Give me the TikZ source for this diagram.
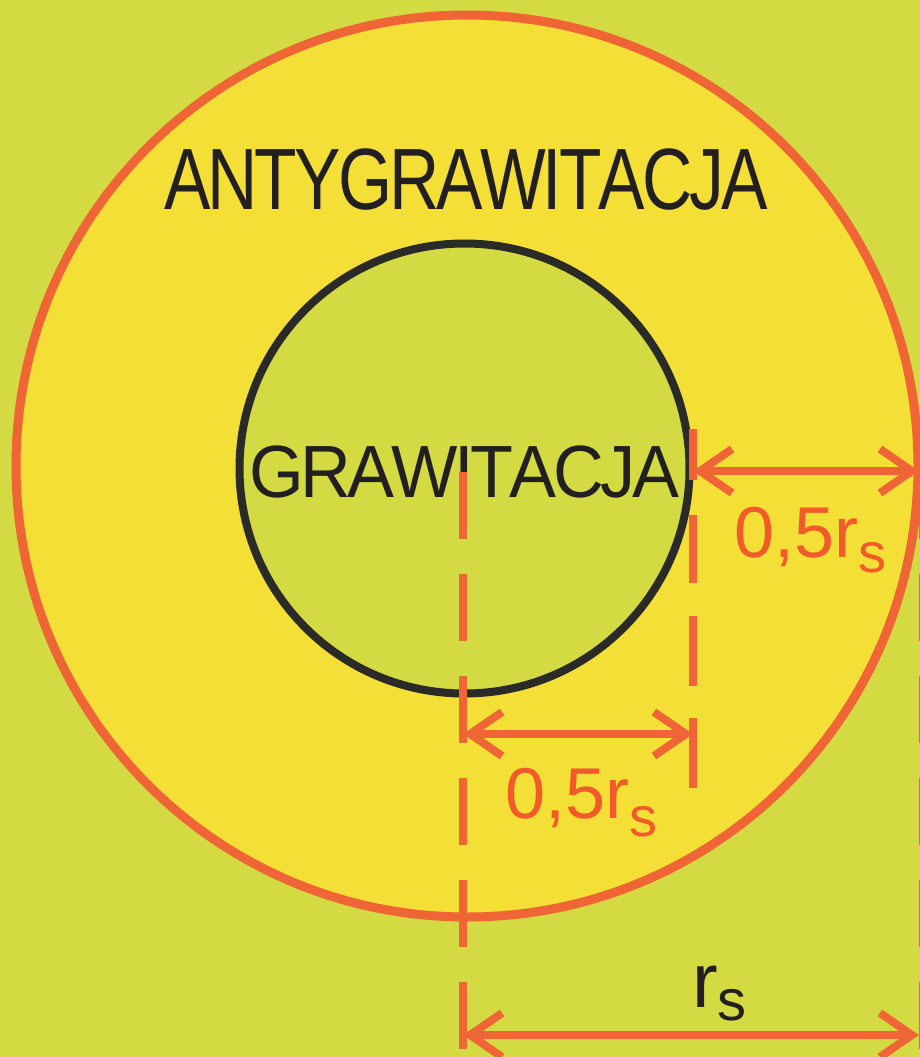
\documentclass[tikz,border=0pt]{standalone}
\usepackage{graphicx}
\usepackage{fontspec}
\setmainfont{Liberation Sans}
\usetikzlibrary{arrows.meta}
\definecolor{bg}{HTML}{D4DA42}
\definecolor{ring}{HTML}{F3DF36}
\definecolor{org}{HTML}{F06535}
\definecolor{txtorg}{HTML}{F15A29}
\definecolor{dark}{HTML}{2A2A26}
\definecolor{ink}{HTML}{231F20}
\newcommand{\kk}{\kern-3.65pt }
\newcommand{\kg}{\kern-3.6pt }
\begin{document}
\begin{tikzpicture}[x=1pt,y=-1pt,
  dim/.style={org, line width=8pt},
  dimarrow/.style={dim, {Straight Barb[length=32pt,width=44pt,sharp]}-{Straight Barb[length=32pt,width=44pt,sharp]}},
  dashln/.style={dim, dash pattern=on 67pt off 35pt},
  lbl/.style={inner sep=0pt, outer sep=0pt, anchor=base west}]
\useasboundingbox (0,0) rectangle (920,1057);
\clip (0,0) rectangle (920,1057);
\fill[bg] (0,0) rectangle (920,1057);
% circles
\node[circle, draw=org, fill=ring, line width=9pt, minimum size=902pt, inner sep=0pt] (outer) at (467,466) {};
\node[circle, draw=dark, fill=bg, line width=8pt, minimum size=450pt, inner sep=0pt] (inner) at (464.5,468.5) {};
% texts
\node[lbl, text=ink] (anti) at (164,209) {\fontsize{87pt}{87pt}\selectfont\scalebox{0.8}[1]{A\kk N\kk T\kk Y\kk G\kk R\kk A\kk W\kk I\kk T\kk A\kk C\kk J\kk A}};
\node[lbl, text=ink] (grav) at (249,497) {\fontsize{74pt}{74pt}\selectfont\scalebox{0.95}[1]{G\kg R\kg A\kg W\kg I\kg T\kg A\kg C\kg J\kg A}};
\node[lbl, text=txtorg] (l1) at (734,557) {\fontsize{72pt}{72pt}\selectfont 0,5r\raisebox{-15pt}{\fontsize{56pt}{56pt}\selectfont s}};
\node[lbl, text=txtorg] (l2) at (505,818) {\fontsize{72pt}{72pt}\selectfont 0,5r\raisebox{-18pt}{\fontsize{56pt}{56pt}\selectfont s}};
\node[lbl, text=ink] (l3) at (692,1007) {\fontsize{77pt}{77pt}\selectfont r\raisebox{-13pt}{\fontsize{58pt}{58pt}\selectfont s}};
% dashed guide lines
\coordinate (cTop) at (463,472);
\coordinate (cBot) at (463,1057);
\coordinate (mTop) at (693,429);
\coordinate (mBot) at (693,788);
\coordinate (eTop) at (923,472);
\coordinate (eBot) at (923,1057);
\draw[dashln] (cTop) -- (cBot);
\draw[dashln] (eTop) -- (eBot);
\draw[dim, dash pattern=on 51pt off 35pt on 68pt off 33pt on 70pt off 32pt on 70pt off 200pt] (mTop) -- (mBot);
% dimension arrows
\coordinate (a1L) at (693,471);
\coordinate (a1R) at (919,471);
\coordinate (a2L) at (463,734);
\coordinate (a2R) at (693,734);
\coordinate (a3L) at (463,1035);
\coordinate (a3R) at (919,1035);
\draw[dimarrow] (a1L) -- (a1R);
\draw[dimarrow] (a2L) -- (a2R);
\draw[dimarrow] (a3L) -- (a3R);
\end{tikzpicture}
\end{document}
